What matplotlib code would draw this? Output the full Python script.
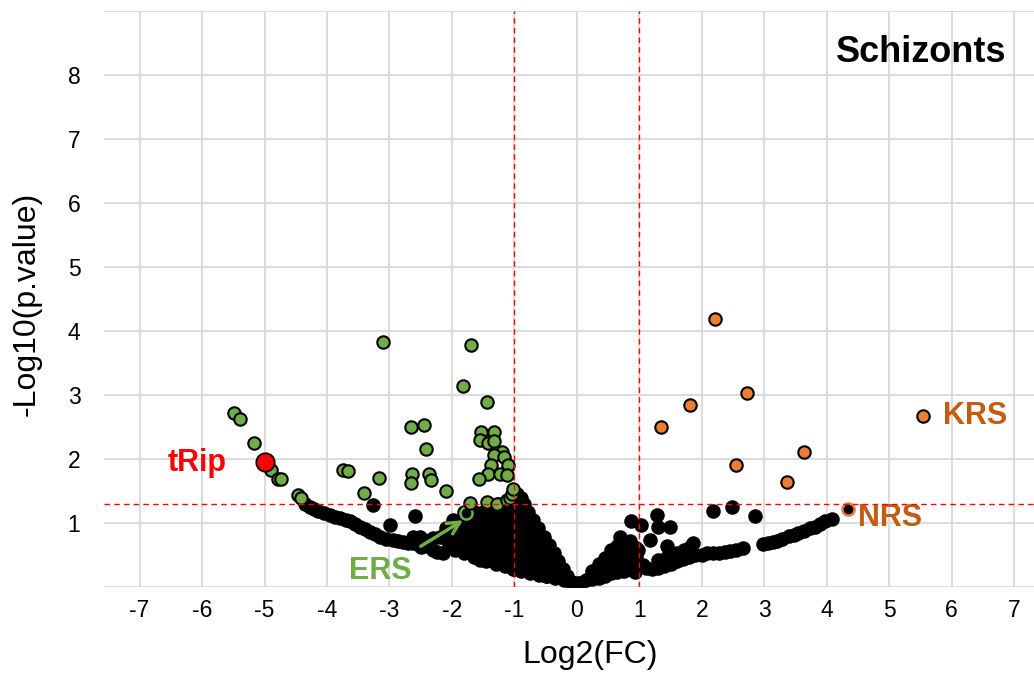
import matplotlib
matplotlib.use("Agg")
import matplotlib.pyplot as plt

plt.rcParams['font.family'] = ['Liberation Sans', 'DejaVu Sans']
plt.rcParams['axes.unicode_minus'] = False

# non-significant genes (black)
black_x = [
    # left arm
    -4.35, -4.27, -4.20, -4.15, -4.05, -3.95, -3.87, -3.79, -3.70, -3.63, -3.55, -3.47,
    -3.39, -3.31, -3.23, -3.15, -3.05, -2.94, -2.86, -2.78, -2.70, -2.62, -2.55,
    -3.26, -2.99, -2.59,
    -2.62, -2.51, -2.46, -2.35, -2.30, -2.19, -2.50, -2.40, -2.30, -2.24, -2.14,
    # main mass
    -1.40, -1.25, -1.10, -0.95, -0.85,
    -1.80, -1.65, -1.50, -1.35, -1.20, -1.05, -0.90, -0.78,
    -1.98, -1.85, -1.70, -1.55, -1.40, -1.25, -1.10, -0.95, -0.80, -0.70,
    -2.10, -1.95, -1.80, -1.65, -1.50, -1.35, -1.20, -1.05, -0.90, -0.75, -0.62,
    -2.15, -2.00, -1.85, -1.70, -1.55, -1.40, -1.25, -1.10, -0.95, -0.80, -0.65, -0.53,
    -2.05, -1.90, -1.75, -1.60, -1.45, -1.30, -1.15, -1.00, -0.85, -0.70, -0.55, -0.45,
    -1.80, -1.65, -1.50, -1.35, -1.20, -1.05, -0.90, -0.75, -0.60, -0.45, -0.37,
    -1.45, -1.30, -1.15, -1.00, -0.85, -0.70, -0.55, -0.42, -0.30,
    -1.00, -0.85, -0.70, -0.55, -0.42, -0.30, -0.22,
    -0.50, -0.38, -0.26, -0.16,
    -0.08, 0.02,
    -0.95, -0.90,
    # lower edge of main mass
    -1.95, -1.65, -1.55, -1.30, -1.15, -1.02, -0.90, -0.75, -0.60, -0.48, -0.35, -0.20, -0.10,
    # right lobe
    0.05, 0.15, 0.25, 0.25, 0.35, 0.35, 0.35, 0.45, 0.45, 0.45,
    0.55, 0.55, 0.55, 0.65, 0.65, 0.65, 0.65, 0.75, 0.75, 0.75, 0.75,
    0.85, 0.85, 0.85, 0.85, 0.95, 0.95, 0.95, 0.69, 0.98, 1.06, 0.93,
    # right arm
    1.10, 1.20, 1.30, 1.40, 1.50, 1.60, 1.70, 1.80, 1.90, 2.00,
    1.30, 1.45, 1.60, 1.72, 1.86, 1.81,
    2.08, 2.18, 2.28, 2.38, 2.45, 2.55, 2.66,
    2.98, 3.06, 3.14, 3.21, 3.28, 3.40, 3.47, 3.54, 3.63, 3.73, 3.81, 3.89, 3.98, 4.09,
    0.87, 1.03, 1.29, 1.30, 1.49, 1.17, 1.45, 2.18, 2.48, 2.86,
]
black_y = [
    1.30, 1.25, 1.21, 1.19, 1.15, 1.12, 1.09, 1.07, 1.04, 1.02, 0.98, 0.94,
    0.90, 0.86, 0.82, 0.78, 0.75, 0.73, 0.71, 0.70, 0.69, 0.68, 0.66,
    1.27, 0.96, 1.10,
    0.78, 0.78, 0.73, 0.73, 0.76, 0.78, 0.62, 0.63, 0.58, 0.55, 0.52,
    1.30, 1.30, 1.30, 1.30, 1.30,
    1.17, 1.17, 1.17, 1.17, 1.17, 1.17, 1.17, 1.17,
    1.04, 1.04, 1.04, 1.04, 1.04, 1.04, 1.04, 1.04, 1.04, 1.04,
    0.91, 0.91, 0.91, 0.91, 0.91, 0.91, 0.91, 0.91, 0.91, 0.91, 0.91,
    0.78, 0.78, 0.78, 0.78, 0.78, 0.78, 0.78, 0.78, 0.78, 0.78, 0.78, 0.78,
    0.65, 0.65, 0.65, 0.65, 0.65, 0.65, 0.65, 0.65, 0.65, 0.65, 0.65, 0.65,
    0.52, 0.52, 0.52, 0.52, 0.52, 0.52, 0.52, 0.52, 0.52, 0.52, 0.52,
    0.40, 0.40, 0.40, 0.40, 0.40, 0.40, 0.40, 0.40, 0.40,
    0.28, 0.28, 0.28, 0.28, 0.28, 0.28, 0.28,
    0.17, 0.17, 0.17, 0.17,
    0.07, 0.06,
    1.45, 1.38,
    0.58, 0.46, 0.42, 0.36, 0.32, 0.27, 0.24, 0.21, 0.18, 0.16, 0.13, 0.10, 0.08,
    0.06, 0.10, 0.12, 0.24, 0.14, 0.26, 0.36, 0.17, 0.30, 0.45,
    0.21, 0.45, 0.58, 0.23, 0.36, 0.50, 0.64, 0.25, 0.38, 0.52, 0.70,
    0.28, 0.42, 0.56, 0.72, 0.35, 0.48, 0.60, 0.78, 0.57, 0.34, 0.23,
    0.30, 0.28, 0.30, 0.33, 0.36, 0.40, 0.44, 0.47, 0.49, 0.50,
    0.42, 0.47, 0.53, 0.58, 0.68, 0.62,
    0.52, 0.52, 0.53, 0.55, 0.56, 0.58, 0.60,
    0.66, 0.68, 0.70, 0.72, 0.75, 0.79, 0.81, 0.84, 0.87, 0.91, 0.94, 0.98, 1.02, 1.06,
    1.03, 0.96, 1.12, 0.94, 0.94, 0.73, 0.63, 1.19, 1.24, 1.10,
]

# down-regulated (green)
green_x = [-5.49, -5.40, -5.17, -4.89, -4.78, -4.74, -4.47, -4.41,
           -3.75, -3.66, -3.17, -3.40, -3.11,
           -2.66, -2.44, -2.42, -2.64, -2.66, -2.36, -2.33, -2.09,
           -1.70, -1.82, -1.44,
           -1.54, -1.32, -1.55, -1.43, -1.33,
           -1.19, -1.32, -1.17, -1.38, -1.10, -1.42, -1.23, -1.12, -1.56,
           -1.71, -1.44, -1.28, -1.12, -1.07, -1.04, -1.02]
green_y = [2.72, 2.62, 2.24, 1.83, 1.69, 1.68, 1.43, 1.38,
           1.82, 1.81, 1.70, 1.46, 3.83,
           2.50, 2.52, 2.15, 1.76, 1.62, 1.76, 1.66, 1.50,
           3.77, 3.13, 2.88,
           2.42, 2.41, 2.29, 2.24, 2.27,
           2.10, 2.06, 2.02, 1.90, 1.90, 1.76, 1.76, 1.75, 1.69,
           1.31, 1.33, 1.30, 1.35, 1.38, 1.45, 1.52]

# up-regulated (orange)
orange_x = [2.22, 1.81, 2.73, 1.34, 2.55, 3.64, 3.37, 5.55]
orange_y = [4.18, 2.84, 3.02, 2.49, 1.90, 2.11, 1.64, 2.66]

trip_x, trip_y = -4.99, 1.95
ers_x, ers_y = -1.77, 1.15
nrs_x, nrs_y = 4.34, 1.21

x_ticks = list(range(-7, 8))
y_ticks = list(range(0, 10))
y_tick_labels = [''] + [str(v) for v in range(1, 9)] + ['']

GREEN = '#70AD47'
ORANGE = '#ED7D31'
BROWN = '#C55A11'

fig = plt.figure(figsize=(10.34, 6.75), dpi=100)
ax = fig.add_axes([0.1006, 0.1308, 0.8994, 0.8533])

ax.set_xlim(-7.57, 7.32)
ax.set_ylim(0, 9)
ax.set_xticks(x_ticks)
ax.set_yticks(y_ticks)
ax.set_yticklabels(y_tick_labels)
ax.grid(True, color='#D9D9D9', lw=1.3, zorder=0)
ax.set_axisbelow(True)
for sp in ax.spines.values():
    sp.set_visible(False)
ax.tick_params(length=0, labelsize=16.5)
ax.tick_params(axis='x', pad=9)
ax.tick_params(axis='y', pad=17)

ax.scatter(black_x, black_y, s=84, c='black', edgecolors='black', lw=1.3, zorder=2)
ax.scatter([ers_x], [ers_y], s=76, c='black', edgecolors=GREEN, lw=1.8, zorder=3)
ax.scatter([nrs_x], [nrs_y], s=76, c='black', edgecolors=ORANGE, lw=1.8, zorder=3)
ax.scatter(green_x, green_y, s=80, c=GREEN, edgecolors='black', lw=1.5, zorder=4)
ax.scatter(orange_x, orange_y, s=80, c=ORANGE, edgecolors='black', lw=1.5, zorder=4)
ax.scatter([trip_x], [trip_y], s=175, c='#FF0000', edgecolors='black', lw=1.3, zorder=5)

# thresholds
for xv in (-1, 1):
    ax.axvline(xv, color='#FF0000', lw=1, ls=(0, (4, 3)), zorder=6)
ax.axhline(1.3, color='#FF0000', lw=1, ls=(0, (4, 3)), zorder=6)

ax.text(-6.08, 1.93, 'tRip', color='#FF0000', fontsize=22, fontweight='bold',
        ha='center', va='center')
ax.text(6.37, 2.67, 'KRS', color=BROWN, fontsize=22, fontweight='bold',
        ha='center', va='center')
ax.text(5.01, 1.07, 'NRS', color=BROWN, fontsize=22, fontweight='bold',
        ha='center', va='center')
ax.annotate('ERS', xy=(-1.82, 1.04), xytext=(-3.15, 0.24), color=GREEN,
            fontsize=22, fontweight='bold', ha='center', va='center',
            arrowprops=dict(arrowstyle='->', color=GREEN, lw=2.5,
                            mutation_scale=22, shrinkA=10, shrinkB=0),
            zorder=7)
ax.text(6.88, 8.35, 'Schizonts', color='black', fontsize=26, fontweight='bold',
        ha='right', va='center')

ax.set_xlabel('Log2(FC)', fontsize=23)
ax.xaxis.label.set_va('center')
ax.xaxis.set_label_coords(0.5226, -0.119)
ax.set_ylabel('-Log10(p.value)', fontsize=23)
ax.yaxis.label.set_va('center')
ax.yaxis.set_label_coords(-0.083, 0.491)

fig.savefig('out.png', dpi=100)
